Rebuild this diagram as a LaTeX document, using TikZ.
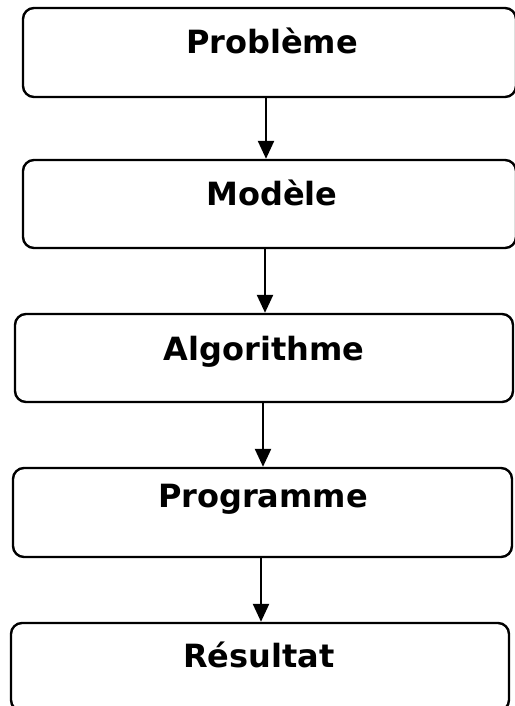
\documentclass[tikz,border=0pt]{standalone}
\usepackage{fontspec}
\setmainfont{DejaVu Sans}
\usetikzlibrary{arrows.meta}
\tikzset{
  stage/.style={draw=black, line width=2.4pt, rounded corners=11pt, inner sep=0pt},
  stagetext/.style={anchor=base, inner sep=0pt, font=\fontsize{32}{38}\selectfont\bfseries},
  flow/.style={line width=2.4pt, -{Triangle[width=16pt,length=18pt]}},
}
\begin{document}
\begin{tikzpicture}[x=1pt, y=-1pt]
  \useasboundingbox (0,0) rectangle (514,706);
  % stage boxes
  \node[stage, minimum width=493pt, minimum height=89pt] (b1) at (269.5,52.5) {};
  \node[stage, minimum width=493pt, minimum height=88pt] (b2) at (269.5,204) {};
  \node[stage, minimum width=498pt, minimum height=88pt] (b3) at (264,358) {};
  \node[stage, minimum width=499pt, minimum height=89pt] (b4) at (262.5,512.5) {};
  \node[stage, minimum width=498pt, minimum height=88pt] (b5) at (260,667) {};
  % labels, set near the top of each box
  \node[stagetext] (t1) at (272,54) {Problème};
  \node[stagetext] (t2) at (272,205) {Modèle};
  \node[stagetext] (t3) at (264,360) {Algorithme};
  \node[stagetext] (t4) at (263,507) {Programme};
  \node[stagetext] (t5) at (259,667) {Résultat};
  % arrows between consecutive stages
  \draw[flow] (b1.south -| 266,0) -- (b2.north -| 266,0);
  \draw[flow] (b2.south -| 265,0) -- (b3.north -| 265,0);
  \draw[flow] (b3.south -| 263,0) -- (b4.north -| 263,0);
  \draw[flow] (b4.south -| 261,0) -- (b5.north -| 261,0);
\end{tikzpicture}
\end{document}
